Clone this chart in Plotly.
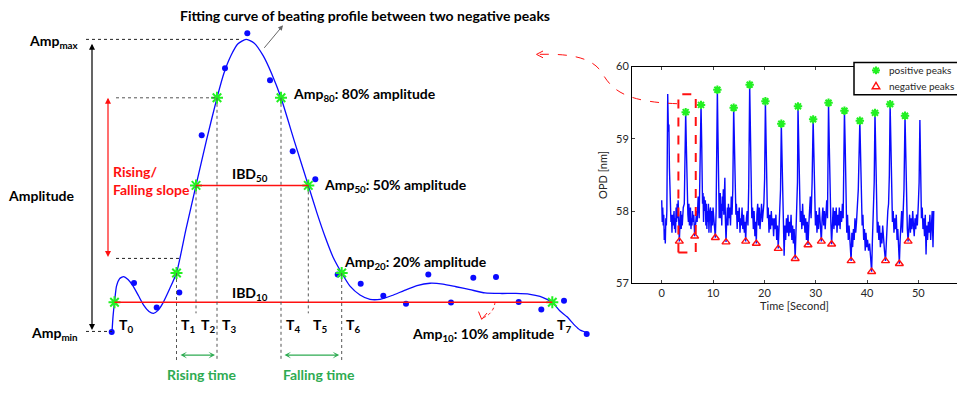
import plotly.graph_objects as go

W, H = 957, 394
FONT = "Lato, 'Open Sans', sans-serif"

# ---------------- beat schematic (x: schematic time units, y: % of amplitude) ----------------
curve_t = [112, 113, 114.5, 116.5, 119.5, 123.5, 128, 133, 138.5, 144, 149, 153.5, 158, 163, 169,
           176.5, 186, 196, 206.5, 217, 224, 231, 238, 246, 254, 263, 272, 281, 294.5,
           308.3, 317, 325, 333, 341.7, 350, 360, 370, 380, 392, 404, 417, 430, 443, 456,
           470, 485, 500, 516, 530, 540, 547, 552.3, 560, 567, 575, 580, 586]
curve_amp = [-0.2, 5.0, 10, 15.5, 18.0, 18.8, 17.8, 15.6, 12.2, 8.8, 6.8, 6.2, 7.2, 9.8, 14.1,
             20, 35, 50, 65.5, 80, 88.5, 94.5, 98.5, 100, 98.8, 94.5, 88, 80, 65,
             50, 40.5, 32.5, 25.5, 20, 15.5, 12.5, 11, 11, 12.3, 14, 15.7, 16.5, 16.2, 15.3,
             14.3, 13.2, 13, 13, 12.7, 12, 11, 10, 7, 5, 2, 0.5, -0.3]

sample_t = [111.7, 134, 156.7, 179.3, 201.7, 225, 247.3, 270, 292.7, 315.3, 337.7,
            360.7, 383.3, 406, 428.3, 451, 473.3, 496, 518.7, 541.3, 564, 586.7]
sample_amp = [-0.2, 16.6, 8.2, 13.3, 67.2, 90.1, 102.1, 86.0, 61.7, 52.1, 19.5,
              16.3, 12.2, 9.5, 19.5, 9.9, 18.4, 18.6, 10.1, 7.5, 10.5, -0.9]

mark_names = ["T0", "T1", "T2", "T3", "T4", "T5", "T6", "T7"]
mark_t = [114.5, 176.5, 196, 217, 281, 308.3, 341.7, 552.3]
mark_amp = [10, 20, 50, 80, 80, 50, 20, 10]

AMP_MIN, AMP_MAX = 0, 100
SLOPE_LOW, SLOPE_HIGH = 25, 80

# ---------------- OPD recording ----------------
time_s = [
    0.0, 0.1, 0.2, 0.3, 0.4, 0.5, 0.6, 0.7, 0.8, 0.9,
    1.0, 1.17, 1.3, 1.4, 1.5, 1.65, 1.8, 1.9, 2.0, 2.1,
    2.2, 2.4, 2.5, 2.6, 2.7, 2.8, 2.9, 3.0, 3.1, 3.2,
    3.3, 3.43, 3.6, 3.7, 3.8, 3.9, 4.0, 4.2, 4.4, 4.55,
    4.67, 4.8, 4.95, 5.1, 5.2, 5.3, 5.4, 5.5, 5.6, 5.7,
    5.8, 5.9, 6.0, 6.1, 6.25, 6.42, 6.6, 6.8, 6.9, 7.1,
    7.3, 7.45, 7.66, 7.8, 7.95, 8.05, 8.15, 8.25, 8.35, 8.5,
    8.6, 8.7, 8.8, 8.9, 9.0, 9.1, 9.2, 9.3, 9.5, 9.6,
    9.7, 9.8, 9.9, 10.0, 10.15, 10.3, 10.45, 10.6, 10.72, 10.84,
    10.95, 11.1, 11.2, 11.3, 11.4, 11.5, 11.6, 11.7, 11.8, 11.9,
    12.0, 12.1, 12.2, 12.3, 12.4, 12.53, 12.65, 12.8, 12.9, 13.0,
    13.1, 13.25, 13.4, 13.55, 13.7, 13.85, 14.02, 14.15, 14.3, 14.45,
    14.55, 14.7, 14.8, 14.95, 15.1, 15.25, 15.4, 15.5, 15.65, 15.8,
    15.95, 16.1, 16.25, 16.36, 16.5, 16.65, 16.8, 16.95, 17.14, 17.3,
    17.45, 17.55, 17.7, 17.85, 18.0, 18.15, 18.3, 18.43, 18.55, 18.7,
    18.85, 19.0, 19.15, 19.3, 19.45, 19.6, 19.75, 19.9, 20.05, 20.2,
    20.35, 20.5, 20.6, 20.75, 20.9, 21.05, 21.2, 21.35, 21.5, 21.65,
    21.8, 21.95, 22.1, 22.25, 22.4, 22.55, 22.7, 22.85, 23.0, 23.15,
    23.3, 23.45, 23.6, 23.7, 23.85, 24.0, 24.15, 24.3, 24.45, 24.6,
    24.75, 24.9, 25.05, 25.2, 25.35, 25.5, 25.65, 25.8, 26.0, 26.15,
    26.3, 26.45, 26.55, 26.7, 26.85, 27.0, 27.15, 27.3, 27.45, 27.6,
    27.75, 27.9, 28.05, 28.2, 28.35, 28.5, 28.65, 28.8, 28.95, 29.1,
    29.3, 29.5, 29.65, 29.8, 29.95, 30.1, 30.25, 30.4, 30.55, 30.7,
    30.85, 31.1, 31.25, 31.4, 31.55, 31.7, 31.85, 32.0, 32.15, 32.3,
    32.4, 32.5, 32.65, 32.8, 32.95, 33.1, 33.25, 33.4, 33.55, 33.7,
    33.85, 34.0, 34.15, 34.3, 34.45, 34.6, 34.75, 34.9, 35.05, 35.2,
    35.35, 35.45, 35.6, 35.75, 35.9, 36.05, 36.2, 36.35, 36.5, 36.7,
    36.9, 37.05, 37.2, 37.35, 37.5, 37.65, 37.8, 37.95, 38.1, 38.3,
    38.6, 38.75, 38.9, 39.05, 39.2, 39.35, 39.5, 39.65, 39.8, 39.95,
    40.1, 40.3, 40.5, 40.7, 40.9, 41.05, 41.2, 41.4, 41.55, 41.7,
    41.85, 42.0, 42.15, 42.3, 42.45, 42.6, 42.75, 42.9, 43.05, 43.2,
    43.4, 43.6, 43.75, 43.9, 44.05, 44.2, 44.35, 44.5, 44.65, 44.8,
    44.95, 45.1, 45.25, 45.4, 45.55, 45.7, 45.85, 46.0, 46.15, 46.3,
    46.45, 46.6, 46.75, 46.9, 47.05, 47.2, 47.4, 47.55, 47.7, 47.85,
    48.0, 48.15, 48.3, 48.45, 48.6, 48.75, 48.9, 49.05, 49.2, 49.35,
    49.5, 49.65, 49.8, 50.0, 50.15, 50.3, 50.45, 50.6, 50.75, 50.9,
    51.05, 51.2, 51.35, 51.5, 51.65, 51.8, 51.95, 52.1, 52.25, 52.4,
    52.55, 52.7, 52.85, 53.0,
]
opd_nm = [
    58.15, 57.85, 58.05, 57.8, 57.95, 57.6, 57.75, 57.55, 57.9, 57.8,
    58.0, 59.62, 59.1, 59.2, 58.6, 58.0, 57.85, 57.95, 57.7, 57.95,
    57.8, 58.0, 57.75, 57.9, 57.7, 58.05, 57.85, 58.1, 57.9, 58.15,
    57.8, 57.58, 57.9, 58.0, 57.75, 57.95, 57.8, 58.05, 58.1, 58.6,
    59.37, 58.9, 58.1, 57.95, 57.85, 58.1, 57.8, 57.95, 58.05, 57.75,
    57.9, 57.8, 58.0, 57.85, 57.95, 57.65, 57.9, 58.0, 57.85, 58.2,
    57.9, 58.5, 59.47, 58.9, 58.1, 58.25, 57.85, 58.2, 58.0, 58.15,
    57.8, 58.1, 57.75, 58.0, 57.85, 58.1, 57.7, 57.95, 58.05, 57.7,
    57.9, 58.0, 57.8, 58.05, 57.9, 57.75, 57.63, 58.0, 58.7, 59.68,
    59.1, 58.25, 57.9, 58.05, 58.25, 57.9, 58.1, 57.8, 58.2, 58.0,
    58.3, 57.95, 58.1, 58.46, 57.9, 57.57, 57.85, 58.05, 57.8, 58.1,
    57.9, 58.05, 57.8, 58.2, 57.95, 58.3, 59.43, 59.0, 58.15, 57.95,
    58.1, 57.75, 58.0, 57.85, 58.05, 57.7, 57.9, 57.8, 58.05, 57.75,
    57.95, 57.7, 57.85, 57.58, 57.9, 58.0, 57.8, 58.35, 59.75, 59.0,
    58.2, 57.9, 58.05, 57.75, 58.0, 57.65, 57.85, 57.55, 57.95, 58.1,
    57.8, 58.05, 57.75, 57.95, 58.1, 57.85, 58.0, 58.1, 58.45, 59.52,
    58.9, 58.2, 57.9, 58.05, 57.7, 57.95, 57.75, 58.0, 57.8, 57.9,
    57.65, 57.9, 57.75, 57.95, 57.6, 57.8, 57.48, 57.75, 57.95, 58.3,
    59.21, 58.7, 57.9, 57.6, 57.38, 57.8, 57.6, 57.9, 57.7, 57.95,
    57.65, 57.85, 57.7, 57.95, 57.6, 57.8, 57.55, 57.75, 57.34, 57.7,
    57.95, 58.4, 59.45, 58.9, 58.1, 57.85, 58.0, 57.75, 58.1, 57.8,
    57.95, 57.7, 57.9, 57.6, 57.85, 57.53, 57.8, 58.0, 58.2, 57.9,
    58.4, 59.27, 58.8, 58.1, 57.8, 58.0, 57.7, 57.95, 57.75, 58.05,
    57.8, 57.58, 57.9, 58.05, 57.8, 58.0, 57.75, 57.95, 58.15, 57.9,
    58.4, 59.5, 58.9, 58.1, 57.85, 57.54, 57.9, 58.05, 57.75, 58.0,
    57.8, 58.05, 57.7, 57.95, 57.8, 58.05, 57.75, 58.0, 57.85, 58.1,
    57.9, 58.4, 59.39, 58.9, 58.1, 57.7, 57.95, 57.6, 57.8, 57.45,
    57.31, 57.7, 57.5, 57.75, 57.6, 57.9, 57.7, 57.85, 58.0, 58.3,
    59.25, 58.7, 58.0, 57.8, 57.95, 57.6, 57.75, 57.45, 57.7, 57.5,
    57.6, 57.45, 57.55, 57.35, 57.16, 57.6, 57.9, 58.4, 59.36, 58.8,
    58.0, 57.7, 57.85, 57.6, 57.8, 57.5, 57.7, 57.55, 57.8, 57.6,
    57.45, 57.31, 57.65, 57.85, 58.0, 58.1, 58.5, 59.48, 58.9, 58.05,
    57.85, 58.0, 57.7, 57.9, 57.75, 57.95, 57.6, 57.75, 57.45, 57.27,
    57.6, 57.85, 58.0, 57.7, 58.0, 58.3, 59.32, 58.8, 58.0, 57.75,
    57.58, 57.75, 57.95, 57.7, 57.9, 57.75, 58.0, 57.8, 57.65, 57.9,
    57.75, 57.95, 57.8, 58.1, 58.4, 59.26, 58.7, 57.9, 58.05, 57.75,
    57.9, 57.65, 57.95, 57.4, 57.8, 57.6, 57.85, 57.7, 57.95, 57.6,
    57.8, 58.0, 57.5, 58.0,
]
pos_peak_t = [4.67, 7.66, 10.84, 14.02, 17.14, 20.2, 23.3, 26.55, 29.5, 32.5,
              35.6, 38.6, 41.55, 44.5, 47.4]
neg_peak_t = [3.43, 6.42, 10.45, 12.53, 16.36, 18.43, 22.7, 26.0, 28.5, 31.1,
              33.1, 36.9, 40.9, 43.6, 46.3, 48.0]
selected_beat = (3.25, 6.63, 57.425, 59.616)   # t0, t1, opd_lo, opd_hi
legend_labels = ["positive peaks", "negative peaks"]

opd_at = dict(zip(time_s, opd_nm))
pos_peak_v = [opd_at[t] for t in pos_peak_t]
neg_peak_v = [opd_at[t] for t in neg_peak_t]

BLUE = "#0a0aff"
LIME = "#22f022"
RED = "#ff1010"
GREEN_TXT = "#2eab52"
DOT_GREY = "#555555"

POS_MARKER = dict(symbol="asterisk-open", size=7, color=LIME, line=dict(color=LIME, width=2))
NEG_MARKER = dict(symbol="triangle-up-open", size=7, color=RED, line=dict(color=RED, width=1.4))


def px(x):
    return x / W


def py(y):
    return 1 - y / H


fig = go.Figure()

# fitted beat curve, samples and level crossings
fig.add_trace(go.Scatter(x=curve_t, y=curve_amp, mode="lines", xaxis="x", yaxis="y",
                         line=dict(color=BLUE, width=1.3, shape="spline", smoothing=0.55),
                         showlegend=False, hoverinfo="skip"))
fig.add_trace(go.Scatter(x=sample_t, y=sample_amp, mode="markers", xaxis="x", yaxis="y",
                         marker=dict(color=BLUE, size=6), showlegend=False))
fig.add_trace(go.Scatter(x=mark_t, y=mark_amp, mode="markers", xaxis="x", yaxis="y",
                         marker=dict(symbol="asterisk-open", size=10, color=LIME,
                                     line=dict(color=LIME, width=2)),
                         showlegend=False))

# OPD time series with detected peaks
fig.add_trace(go.Scatter(x=time_s, y=opd_nm, mode="lines", xaxis="x2", yaxis="y2",
                         line=dict(color=BLUE, width=1.4), showlegend=False))
fig.add_trace(go.Scatter(x=pos_peak_t, y=pos_peak_v, mode="markers", xaxis="x2", yaxis="y2",
                         name=legend_labels[0], marker=POS_MARKER, showlegend=False))
fig.add_trace(go.Scatter(x=neg_peak_t, y=neg_peak_v, mode="markers", xaxis="x2", yaxis="y2",
                         name=legend_labels[1], marker=NEG_MARKER, showlegend=False))

shapes = []


def seg(x0, y0, x1, y1, color, width=1, dash="solid"):
    shapes.append(dict(type="line", xref="x", yref="y", x0=x0, y0=y0, x1=x1, y1=y1,
                       line=dict(color=color, width=width, dash=dash), layer="above"))


def ppath(points, close=False):
    d = "M " + " L ".join(f"{px(x):.5f},{py(y):.5f}" for x, y in points)
    return d + (" Z" if close else "")


# level guide lines
seg(86, AMP_MAX, 240, AMP_MAX, "#222222", 1, "dot")
seg(86, AMP_MIN, mark_t[0] - 2.5, AMP_MIN, "#222222", 1, "dot")
seg(116, SLOPE_HIGH, mark_t[3], SLOPE_HIGH, DOT_GREY, 1, "dot")
seg(116, SLOPE_LOW, 179, SLOPE_LOW, "#222222", 1, "dot")
# interbeat durations at 50% and 10%
seg(mark_t[2], mark_amp[2], mark_t[5], mark_amp[5], RED, 1.5)
seg(mark_t[0], mark_amp[0], mark_t[7], mark_amp[7], RED, 1.5)
# vertical time markers
for i in (1, 3, 4, 6):
    seg(mark_t[i], mark_amp[i], mark_t[i], -10.4, DOT_GREY, 1, "dot")
for i in (2, 5):
    seg(mark_t[i], mark_amp[i], mark_t[i], 6.2, DOT_GREY, 1, "dot")

# highlighted beat on the recording
t0, t1, v0, v1 = selected_beat
shapes.append(dict(type="rect", xref="x2", yref="y2", x0=t0, x1=t1, y0=v0, y1=v1,
                   line=dict(color=RED, width=2, dash="dash"), layer="above"))

# legend frame (open on the right where the page ends) with its key glyphs
shapes.append(dict(type="rect", xref="paper", yref="paper", x0=px(854), x1=px(962),
                   y0=py(90.7), y1=py(57.3), fillcolor="white",
                   line=dict(color="black", width=1.5), layer="above"))
kx, ky1, ky2 = 876, 65.5, 81.5
for a, b in (((kx - 4, ky1), (kx + 4, ky1)), ((kx, ky1 - 4), (kx, ky1 + 4)),
             ((kx - 2.8, ky1 - 2.8), (kx + 2.8, ky1 + 2.8)),
             ((kx - 2.8, ky1 + 2.8), (kx + 2.8, ky1 - 2.8))):
    shapes.append(dict(type="path", xref="paper", yref="paper", path=ppath([a, b]),
                       line=dict(color=LIME, width=2), layer="above"))
shapes.append(dict(type="path", xref="paper", yref="paper",
                   path=ppath([(kx - 3.8, ky2 + 3), (kx + 3.8, ky2 + 3), (kx, ky2 - 3.6)], True),
                   line=dict(color=RED, width=1.4), layer="above"))

# link from the highlighted beat to the schematic
link = (f"M {px(677):.5f},{py(100):.5f} C {px(625):.5f},{py(98):.5f} {px(612):.5f},{py(86):.5f} "
        f"{px(602):.5f},{py(68):.5f} C {px(592):.5f},{py(52):.5f} {px(570):.5f},{py(48):.5f} "
        f"{px(538):.5f},{py(49):.5f}")
shapes.append(dict(type="path", xref="paper", yref="paper", path=link,
                   line=dict(color=RED, width=1, dash="dash"), layer="above"))
shapes.append(dict(type="path", xref="paper", yref="paper",
                   path=ppath([(543, 45.5), (536.5, 49), (543, 52.5)]),
                   line=dict(color=RED, width=1), layer="above"))
# small pointer to the 10% label
ptr = (f"M {px(495):.5f},{py(305):.5f} Q {px(494):.5f},{py(317):.5f} {px(482):.5f},{py(322):.5f}")
shapes.append(dict(type="path", xref="paper", yref="paper", path=ptr,
                   line=dict(color=RED, width=1, dash="dot"), layer="above"))
shapes.append(dict(type="path", xref="paper", yref="paper",
                   path=ppath([(478.5, 315), (481.7, 323), (487, 316.5)]),
                   line=dict(color=RED, width=1), layer="above"))

annotations = []


def text(s, x, y, size=14, color="black", xanchor="center", yanchor="middle", **kw):
    annotations.append(dict(xref="paper", yref="paper", x=px(x), y=py(y),
                            text=s, showarrow=False, xanchor=xanchor, yanchor=yanchor,
                            font=dict(family=FONT, size=size, color=color), **kw))


def darrow(x0, y0, x1, y1, color, width=1.2, head=2, sides="end+start"):
    annotations.append(dict(xref="x", yref="y", axref="x", ayref="y", x=x1, y=y1, ax=x0, ay=y0,
                            text="", showarrow=True, arrowhead=head, startarrowhead=head,
                            arrowside=sides, arrowsize=1, startarrowsize=1,
                            arrowwidth=width, arrowcolor=color))


text("<b>Fitting curve of beating profile between two negative peaks</b>", 364.5, 9)
text("<b>Amp<sub>max</sub></b>", 81, 36, xanchor="right")
text("<b>Amp<sub>min</sub></b>", 80, 338, xanchor="right")
text("<b>Amplitude</b>", 41, 195)
text("<b>Rising/<br>Falling slope</b>", 111, 179, color=RED, xanchor="left", align="left")
text("<b>IBD<sub>50</sub></b>", 250, 173)
text("<b>IBD<sub>10</sub></b>", 250, 296)
for name, t in zip(mark_names, mark_t):
    text(f"<b>T<sub>{name[1:]}</sub></b>", t + 2.5, 329, xanchor="left")
text("<b>Rising time</b>", 202, 380, color=GREEN_TXT)
text("<b>Falling time</b>", 319, 380, color=GREEN_TXT)
text(f"<b>Amp<sub>{mark_amp[3]}</sub>: {mark_amp[3]}% amplitude</b>", 291, 91, xanchor="left")
text(f"<b>Amp<sub>{mark_amp[5]}</sub>: {mark_amp[5]}% amplitude</b>", 322, 184.5, xanchor="left")
text(f"<b>Amp<sub>{mark_amp[6]}</sub>: {mark_amp[6]}% amplitude</b>", 341.5, 264, xanchor="left")
text(f"<b>Amp<sub>{mark_amp[7]}</sub>: {mark_amp[7]}% amplitude</b>", 409.5, 339, xanchor="left")
for lab, y in zip(legend_labels, (ky1, ky2)):
    text(lab, 887, y, size=10, color="#262626", xanchor="left")

darrow(92, AMP_MIN, 92, 98.5, "black", 1.2)
darrow(108, SLOPE_LOW, 108, SLOPE_HIGH, RED, 1.2)
darrow(mark_t[1] + 2.5, -8.1, mark_t[3] - 2, -8.1, GREEN_TXT, 1.1, head=3)
darrow(mark_t[4] + 2, -8.1, mark_t[6] - 2.5, -8.1, GREEN_TXT, 1.1, head=3)
annotations.append(dict(xref="paper", yref="paper", x=px(283), y=py(19), ax=-20, ay=24,
                        text="", showarrow=True, arrowhead=2, arrowsize=1, arrowwidth=1,
                        arrowcolor="#666666"))

axis_font = dict(family=FONT, size=11, color="#262626")
fig.update_layout(
    width=W, height=H, margin=dict(l=0, r=0, t=0, b=0),
    paper_bgcolor="white", plot_bgcolor="rgba(0,0,0,0)",
    font=dict(family=FONT, size=13, color="black"),
    shapes=shapes, annotations=annotations,
    showlegend=False,
    xaxis=dict(domain=[0, 1], range=[0, W], visible=False, fixedrange=True),
    yaxis=dict(domain=[0, 1], range=[-19.37, 111.09], visible=False, fixedrange=True),
    xaxis2=dict(domain=[632 / W, 1], range=[-5.79, 57.53], anchor="y2",
                tickvals=[0, 10, 20, 30, 40, 50], ticks="inside", ticklen=3,
                showline=True, mirror="ticks", linecolor="black", linewidth=1,
                showgrid=False, zeroline=False, tickfont=axis_font,
                title=dict(text="Time [Second]", font=axis_font, standoff=2)),
    yaxis2=dict(domain=[py(285.67), py(61.67)], range=[57, 60], anchor="x2",
                tickvals=[57, 58, 59, 60], ticks="inside", ticklen=3,
                showline=True, linecolor="black", linewidth=1,
                showgrid=False, zeroline=False, tickfont=axis_font,
                title=dict(text="OPD [nm]", font=axis_font, standoff=6)),
)

fig.write_html("out.html")
